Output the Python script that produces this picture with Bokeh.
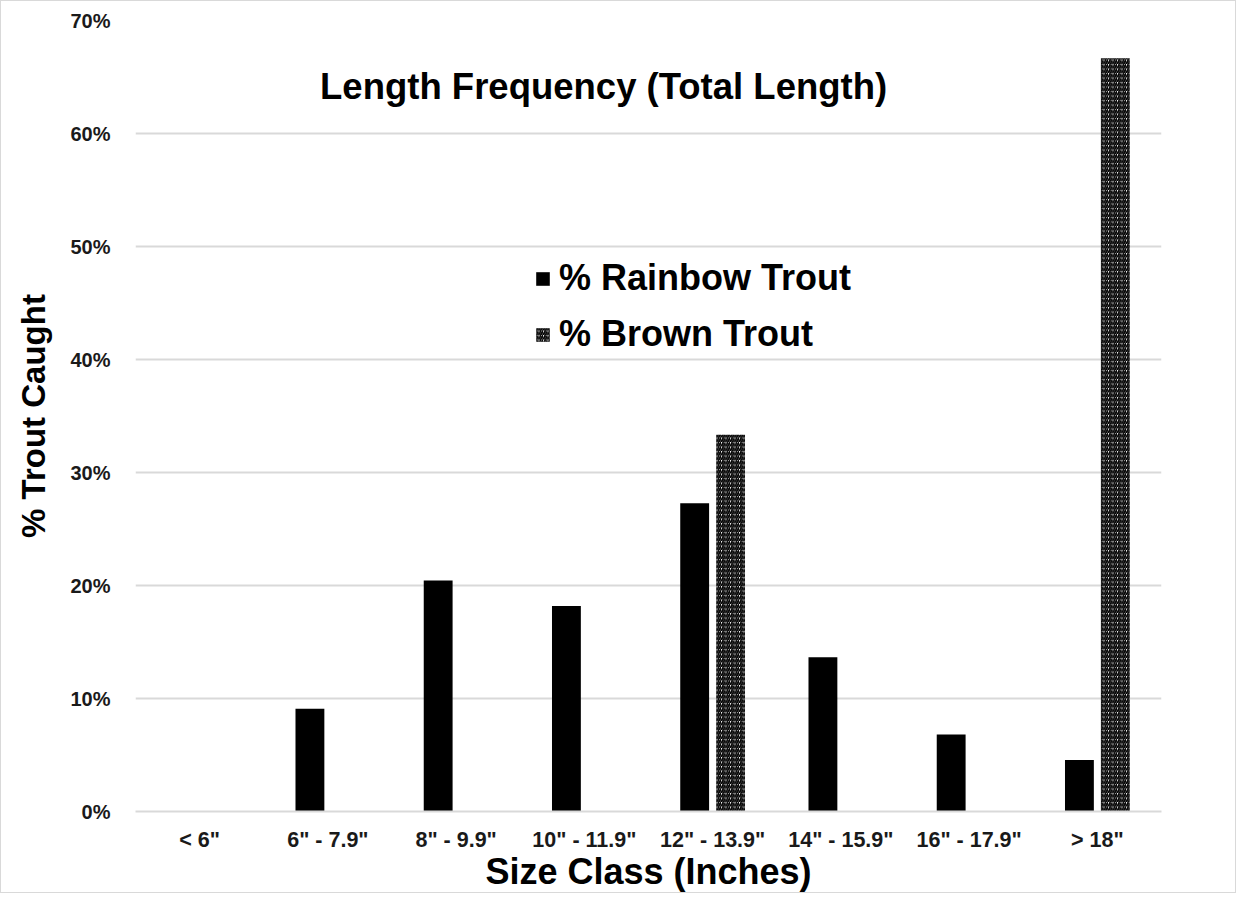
from bokeh.plotting import figure
from bokeh.models import (ColumnDataSource, FactorRange, Range1d, NumeralTickFormatter,
                          Legend, LegendItem, Label, FixedTicker)
from bokeh.transform import dodge
from bokeh.embed import file_html
from bokeh.resources import INLINE

categories = ['< 6"', '6" - 7.9"', '8" - 9.9"', '10" - 11.9"', '12" - 13.9"',
              '14" - 15.9"', '16" - 17.9"', '> 18"']
rainbow = [0.0, 0.0909, 0.2045, 0.1818, 0.2727, 0.1364, 0.0682, 0.0455]
brown = [0.0, 0.0, 0.0, 0.0, 0.3333, 0.0, 0.0, 0.6667]
y_ticks = [0.0, 0.1, 0.2, 0.3, 0.4, 0.5, 0.6, 0.7]

FONT = "Liberation Sans"

src = ColumnDataSource(dict(cat=categories, rainbow=rainbow, brown=brown))

p = figure(x_range=FactorRange(*categories), y_range=Range1d(0, 0.70),
           width=1236, height=893, output_backend="svg", toolbar_location=None,
           min_border_left=134, min_border_right=76, min_border_top=19, min_border_bottom=76)
p.styles = {"border": "1px solid #d9d9d9"}
p.background_fill_color = "white"
p.border_fill_color = "white"
p.outline_line_color = None

r1 = p.vbar(x=dodge('cat', -0.14, range=p.x_range), top='rainbow', width=0.225,
            source=src, fill_color="black", line_color=None)
r2 = p.vbar(x=dodge('cat', 0.14, range=p.x_range), top='brown', width=0.225,
            source=src, fill_color="white", line_color=None,
            hatch_pattern="/", hatch_color="black", hatch_scale=4.5, hatch_weight=1.8)

# grid
p.xgrid.grid_line_color = None
p.ygrid.grid_line_color = "#d9d9d9"
p.ygrid.grid_line_width = 2
p.yaxis.ticker = FixedTicker(ticks=y_ticks)

# y axis
p.yaxis.formatter = NumeralTickFormatter(format="0%")
p.yaxis.axis_line_color = None
p.yaxis.major_tick_line_color = None
p.yaxis.minor_tick_line_color = None
p.yaxis.major_label_text_font = FONT
p.yaxis.major_label_text_font_style = "bold"
p.yaxis.major_label_text_font_size = "20px"
p.yaxis.major_label_text_color = "#1a1a1a"
p.yaxis.major_label_standoff = 19
p.yaxis.axis_label = "% Trout Caught"
p.yaxis.axis_label_text_font = FONT
p.yaxis.axis_label_text_font_style = "bold"
p.yaxis.axis_label_text_font_size = "33px"
p.yaxis.axis_label_text_color = "black"
p.yaxis.axis_label_standoff = 15

# x axis
p.xaxis.axis_line_color = "#d9d9d9"
p.xaxis.axis_line_width = 2
p.xaxis.major_tick_line_color = None
p.xaxis.minor_tick_line_color = None
p.xaxis.major_label_text_font = FONT
p.xaxis.major_label_text_font_style = "bold"
p.xaxis.major_label_text_font_size = "21.5px"
p.xaxis.major_label_text_color = "#1a1a1a"
p.xaxis.major_label_standoff = 10
p.xaxis.axis_label = "Size Class (Inches)"
p.xaxis.axis_label_text_font = FONT
p.xaxis.axis_label_text_font_style = "bold"
p.xaxis.axis_label_text_font_size = "36px"
p.xaxis.axis_label_text_color = "black"
p.xaxis.axis_label_standoff = -4

# title inside plot
title = Label(x=3.65, y=0.642, text="Length Frequency (Total Length)",
              text_font=FONT, text_font_style="bold", text_font_size="36.5px",
              text_align="center", text_baseline="middle", text_color="black")
p.add_layout(title)

legend = Legend(items=[LegendItem(label="% Rainbow Trout", renderers=[r1]),
                       LegendItem(label="% Brown Trout", renderers=[r2])],
                location=(399, 456), orientation="vertical")
legend.label_text_font = FONT
legend.label_text_font_style = "bold"
legend.label_text_font_size = "36px"
legend.label_text_color = "black"
legend.glyph_width = 17
legend.glyph_height = 17
legend.label_standoff = 8
legend.spacing = 14
legend.padding = 0
legend.border_line_color = None
legend.background_fill_alpha = 0
p.add_layout(legend, "center")

open("out.html", "w").write(file_html(p, INLINE))
